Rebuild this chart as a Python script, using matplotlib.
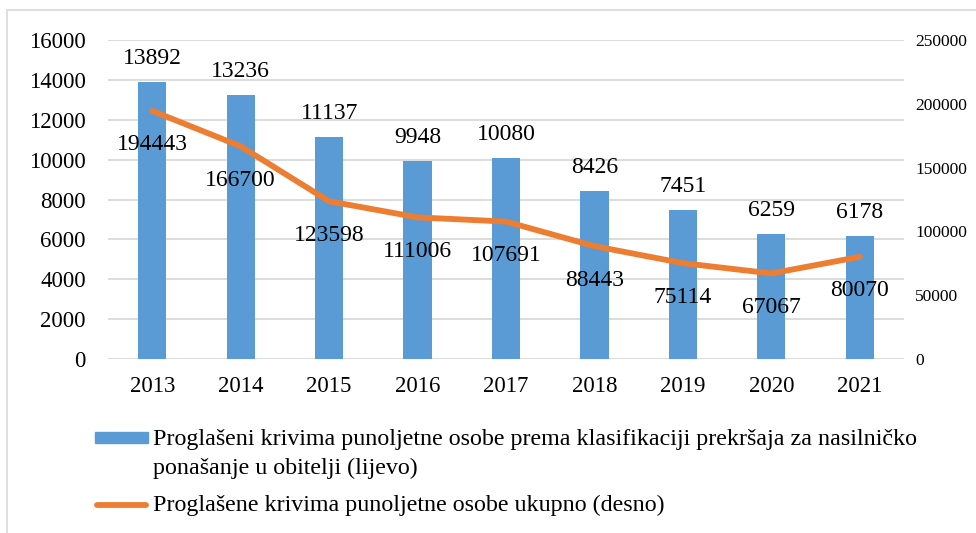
import matplotlib.pyplot as plt
from matplotlib.patches import Rectangle
from matplotlib.lines import Line2D

plt.rcParams['font.family'] = ['Liberation Serif', 'DejaVu Serif']

# data
years = ['2013', '2014', '2015', '2016', '2017', '2018', '2019', '2020', '2021']
nasilje = [13892, 13236, 11137, 9948, 10080, 8426, 7451, 6259, 6178]
ukupno = [194443, 166700, 123598, 111006, 107691, 88443, 75114, 67067, 80070]

left_ticks = list(range(0, 16001, 2000))
right_ticks = list(range(0, 250001, 50000))

blue = '#5B9BD5'
orange = '#ED7D31'
grid_c = '#D9D9D9'

fig = plt.figure(figsize=(9.76, 5.33), dpi=100)
ax = fig.add_axes([108/976, 1 - 359/533, (904 - 108)/976, (359 - 40)/533])
ax2 = ax.twinx()

x = list(range(len(years)))
ax.bar(x, nasilje, width=0.32, color=blue, zorder=2)
for xi, v in zip(x, nasilje):
    ax.annotate(str(v), (xi, v), xytext=(0, 17), textcoords='offset points',
                ha='center', va='center', fontsize=17)

ax2.plot(x, ukupno, color=orange, linewidth=4.2, solid_capstyle='round', zorder=3)
for xi, v in zip(x, ukupno):
    ax2.annotate(str(v), (xi, v), xytext=(0, -24.5), textcoords='offset points',
                 ha='center', va='center', fontsize=17)

ax.set_xlim(-0.5, len(years) - 0.5)
ax.set_ylim(0, 16000)
ax.set_yticks(left_ticks)
ax.set_xticks(x)
ax.set_xticklabels(years)
ax2.set_ylim(0, 250000)
ax2.set_yticks(right_ticks)

ax.grid(axis='y', color=grid_c, linewidth=1.3, zorder=0)
ax.set_axisbelow(True)
for a in (ax, ax2):
    for s in a.spines.values():
        s.set_visible(False)
ax.tick_params(axis='y', length=0, labelsize=16.5, pad=16)
ax.tick_params(axis='x', length=0, labelsize=16.5, pad=12)
ax2.tick_params(axis='y', length=0, labelsize=12.5, pad=8)

# chart frame
fig.patches.append(Rectangle((7/976, -0.05), 1.1, 1 - 10/533 + 0.05, transform=fig.transFigure,
                             fill=False, edgecolor='#D9D9D9', linewidth=1.2))

# legend
fig.patches.append(Rectangle((95/976, 1 - 443/533), 53/976, 11/533, transform=fig.transFigure,
                             color=blue))
fig.text(153/976, 1 - 440/533,
         'Proglašeni krivima punoljetne osobe prema klasifikaciji prekršaja za nasilničko',
         fontsize=17.3, va='center', ha='left')
fig.text(153/976, 1 - 468/533, 'ponašanje u obitelji (lijevo)',
         fontsize=17.3, va='center', ha='left')
fig.lines.append(Line2D([97/976, 146/976], [1 - 505/533, 1 - 505/533], transform=fig.transFigure,
                        color=orange, linewidth=4.2, solid_capstyle='round'))
fig.text(153/976, 1 - 505/533, 'Proglašene krivima punoljetne osobe ukupno (desno)',
         fontsize=17.3, va='center', ha='left')

fig.savefig('out.png', dpi=100)
